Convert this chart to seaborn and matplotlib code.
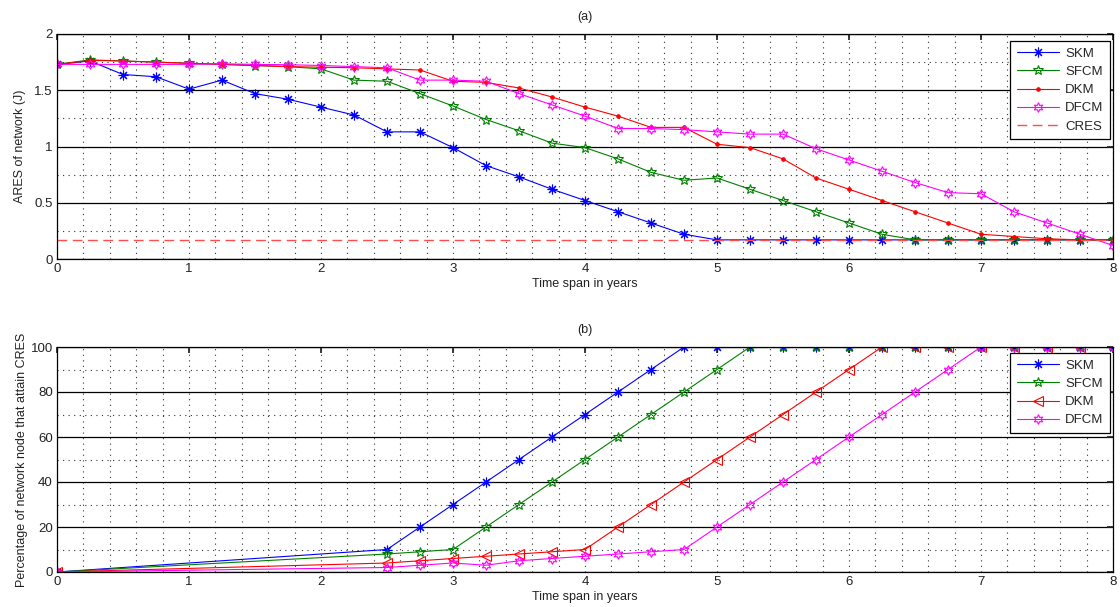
import numpy as np
import pandas as pd
import matplotlib
matplotlib.use("Agg")
import matplotlib.pyplot as plt
from matplotlib.ticker import MultipleLocator, FixedLocator
import seaborn as sns

sns.set_theme(style="white")
plt.rcParams['font.family'] = ['Liberation Sans', 'DejaVu Sans']
plt.rcParams['font.size'] = 9

# ---- (a) average residual energy of the network ----
years_a = [0, 0.25, 0.5, 0.75, 1, 1.25, 1.5, 1.75, 2, 2.25, 2.5, 2.75, 3, 3.25,
           3.5, 3.75, 4, 4.25, 4.5, 4.75, 5, 5.25, 5.5, 5.75, 6, 6.25, 6.5,
           6.75, 7, 7.25, 7.5, 7.75, 8]
ares_skm = [1.73, 1.76, 1.64, 1.62, 1.51, 1.59, 1.47, 1.42, 1.35, 1.28, 1.13,
            1.13, 0.99, 0.83, 0.73, 0.62, 0.52, 0.42, 0.32, 0.22, 0.17,
            0.17, 0.17, 0.17, 0.17, 0.17, 0.17, 0.17, 0.17, 0.17, 0.17, 0.17, 0.17]
ares_sfcm = [1.73, 1.77, 1.76, 1.75, 1.74, 1.73, 1.72, 1.71, 1.69, 1.59, 1.58,
             1.47, 1.36, 1.24, 1.14, 1.03, 0.99, 0.89, 0.77, 0.70, 0.72,
             0.62, 0.52, 0.42, 0.32, 0.22, 0.17, 0.17, 0.17, 0.17, 0.17, 0.17, 0.17]
ares_dkm = [1.73, 1.765, 1.76, 1.75, 1.74, 1.73, 1.72, 1.71, 1.705, 1.70, 1.69,
            1.68, 1.58, 1.57, 1.52, 1.44, 1.35, 1.27, 1.17, 1.17, 1.02,
            0.99, 0.89, 0.72, 0.62, 0.52, 0.42, 0.32, 0.22, 0.20, 0.18, 0.17, 0.17]
ares_dfcm = [1.73, 1.73, 1.73, 1.73, 1.73, 1.735, 1.73, 1.727, 1.72, 1.71, 1.70,
             1.59, 1.59, 1.58, 1.47, 1.37, 1.27, 1.16, 1.16, 1.15, 1.13,
             1.11, 1.11, 0.98, 0.88, 0.78, 0.68, 0.59, 0.58, 0.42, 0.32, 0.22, 0.12]
cres = 0.17
ares_ticks = [0, 0.5, 1, 1.5, 2]
ares_ticklabels = ["0", "0.5", "1", "1.5", "2"]

# ---- (b) share of nodes that reached CRES ----
years_b = [0, 2.5, 2.75, 3, 3.25, 3.5, 3.75, 4, 4.25, 4.5, 4.75, 5, 5.25, 5.5,
           5.75, 6, 6.25, 6.5, 6.75, 7, 7.25, 7.5, 7.75, 8]
pct_skm = [0, 10, 20, 30, 40, 50, 60, 70, 80, 90, 100, 100, 100, 100, 100, 100,
           100, 100, 100, 100, 100, 100, 100, 100]
pct_sfcm = [0, 8, 9, 10, 20, 30, 40, 50, 60, 70, 80, 90, 100, 100, 100, 100,
            100, 100, 100, 100, 100, 100, 100, 100]
pct_dkm = [0, 4, 5, 6, 7, 8, 9, 10, 20, 30, 40, 50, 60, 70, 80, 90,
           100, 100, 100, 100, 100, 100, 100, 100]
pct_dfcm = [0, 2, 3, 4, 3, 5, 6, 7, 8, 9, 10, 20, 30, 40, 50, 60,
            70, 80, 90, 100, 100, 100, 100, 100]
pct_ticks = [0, 20, 40, 60, 80, 100]
pct_ticklabels = ["0", "20", "40", "60", "80", "100"]

labels = ["SKM", "SFCM", "DKM", "DFCM"]
colors = ["#0000ff", "#008000", "#ff0000", "#ff00ff"]
hexagram = (6, 1, 0)
asterisk = (8, 2, 0)

fig = plt.figure(figsize=(11.2, 6.07), dpi=100)
ax_a = fig.add_axes([57 / 1120, 1 - 259 / 607, 1056 / 1120, 225 / 607])
ax_b = fig.add_axes([57 / 1120, 1 - 572 / 607, 1056 / 1120, 225 / 607])

dot = (0, (1, 4))


def style_axes(ax, yticks, yticklabels):
    ax.set_xlim(0, 8)
    ax.set_ylim(yticks[0], yticks[-1])
    ax.set_xticks(range(0, 9))
    ax.set_xticklabels([str(v) for v in range(0, 9)])
    ax.set_yticks(yticks)
    ax.set_yticklabels(yticklabels)
    step = yticks[1] - yticks[0]
    ax.yaxis.set_minor_locator(FixedLocator([t + step / 2 for t in yticks[:-1]]))
    ax.xaxis.set_minor_locator(MultipleLocator(0.2))
    ax.grid(False)
    ax.grid(True, which="major", axis="y", color="black", linestyle="-", linewidth=0.9)
    ax.grid(True, which="minor", axis="y", color="#333333", linestyle=dot, linewidth=0.8)
    ax.grid(True, which="both", axis="x", color="#333333", linestyle=dot, linewidth=0.8)
    ax.set_axisbelow(True)
    ax.tick_params(which="major", direction="in", length=4, top=True, right=True,
                   labelsize=9.5, colors="#222222", pad=3)
    ax.tick_params(which="minor", length=0)
    for s in ax.spines.values():
        s.set_color("black")
        s.set_linewidth(0.9)
    ax.set_facecolor("white")
    ax.set_xlabel("Time span in years", fontsize=9, color="#222222", labelpad=2)


# panel (a)
series_a = [ares_skm, ares_sfcm, ares_dkm, ares_dfcm]
markers_a = [asterisk, "*", ".", hexagram]
mfc_a = [None, "none", None, "none"]
msize_a = [7, 7.5, 5, 7]
for vals, lab, col, mk, fc, ms in zip(series_a, labels, colors, markers_a, mfc_a, msize_a):
    df = pd.DataFrame({"year": years_a, "value": vals})
    kw = dict(markerfacecolor=fc) if fc else {}
    sns.lineplot(data=df, x="year", y="value", ax=ax_a, color=col, marker=mk,
                 markersize=ms, markeredgecolor=col, markeredgewidth=0.8,
                 linewidth=0.8, label=lab, estimator=None, sort=False, **kw)
df_cres = pd.DataFrame({"year": [years_a[0], years_a[-1]], "value": [cres, cres]})
sns.lineplot(data=df_cres, x="year", y="value", ax=ax_a, color="#ff4c4c",
             linestyle=(0, (7, 4)), linewidth=1.0, label="CRES", estimator=None)
style_axes(ax_a, ares_ticks, ares_ticklabels)
ax_a.set_ylabel("ARES of network (J)", fontsize=9, color="#222222", labelpad=6)
ax_a.set_title("(a)", fontsize=9, color="#222222", pad=10)

# panel (b)
series_b = [pct_skm, pct_sfcm, pct_dkm, pct_dfcm]
markers_b = [asterisk, "*", "<", hexagram]
mfc_b = [None, "none", "none", "none"]
msize_b = [7, 7.5, 7.5, 7]
for vals, lab, col, mk, fc, ms in zip(series_b, labels, colors, markers_b, mfc_b, msize_b):
    df = pd.DataFrame({"year": years_b, "value": vals})
    kw = dict(markerfacecolor=fc) if fc else {}
    sns.lineplot(data=df, x="year", y="value", ax=ax_b, color=col, marker=mk,
                 markersize=ms, markeredgecolor=col, markeredgewidth=0.8,
                 linewidth=0.8, label=lab, estimator=None, sort=False, **kw)
style_axes(ax_b, pct_ticks, pct_ticklabels)
ax_b.set_ylabel("Percentage of network node that attain CRES", fontsize=9,
                color="#222222", labelpad=2)
ax_b.set_title("(b)", fontsize=9, color="#222222", pad=10)

for ax, ytop in ((ax_a, 1 - 7 / 225), (ax_b, 1 - 6 / 225)):
    leg = ax.legend(loc="upper right", bbox_to_anchor=(1 - 3 / 1056, ytop),
                    borderaxespad=0, fontsize=9.5, handlelength=3.2,
                    handletextpad=0.45, labelspacing=0.45, borderpad=0.5,
                    fancybox=False, framealpha=1, edgecolor="black")
    leg.get_frame().set_linewidth(0.9)

fig.savefig("out.png", dpi=100, facecolor="white")
